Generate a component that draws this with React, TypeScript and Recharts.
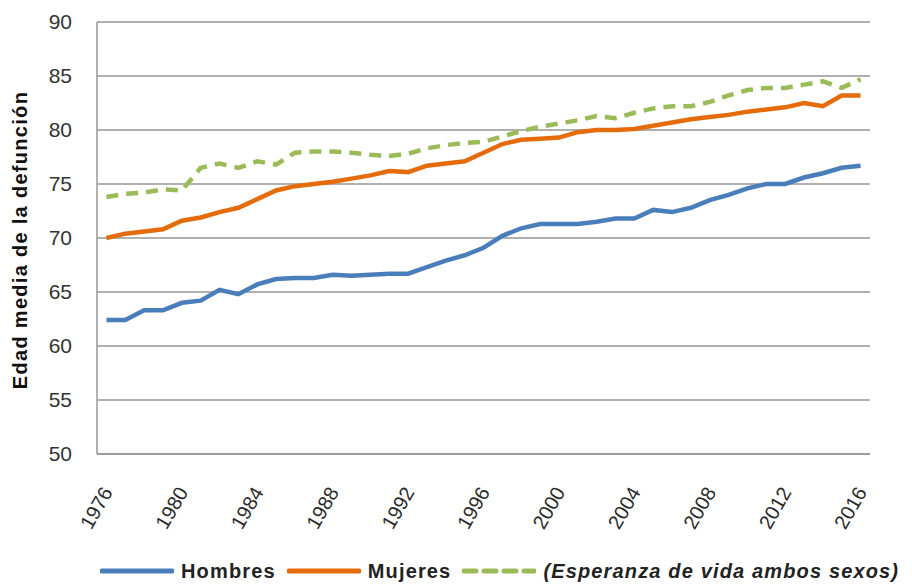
import { LineChart, Line, XAxis, YAxis, CartesianGrid, Legend } from "recharts";

const years = [
  1976, 1977, 1978, 1979, 1980, 1981, 1982, 1983, 1984, 1985, 1986, 1987, 1988, 1989,
  1990, 1991, 1992, 1993, 1994, 1995, 1996, 1997, 1998, 1999, 2000, 2001, 2002, 2003,
  2004, 2005, 2006, 2007, 2008, 2009, 2010, 2011, 2012, 2013, 2014, 2015, 2016,
];

const hombres = [
  62.4, 62.4, 63.3, 63.3, 64.0, 64.2, 65.2, 64.8, 65.7, 66.2, 66.3, 66.3, 66.6, 66.5,
  66.6, 66.7, 66.7, 67.3, 67.9, 68.4, 69.1, 70.2, 70.9, 71.3, 71.3, 71.3, 71.5, 71.8,
  71.8, 72.6, 72.4, 72.8, 73.5, 74.0, 74.6, 75.0, 75.0, 75.6, 76.0, 76.5, 76.7,
];

const mujeres = [
  70.0, 70.4, 70.6, 70.8, 71.6, 71.9, 72.4, 72.8, 73.6, 74.4, 74.8, 75.0, 75.2, 75.5,
  75.8, 76.2, 76.1, 76.7, 76.9, 77.1, 77.9, 78.7, 79.1, 79.2, 79.3, 79.8, 80.0, 80.0,
  80.1, 80.4, 80.7, 81.0, 81.2, 81.4, 81.7, 81.9, 82.1, 82.5, 82.2, 83.2, 83.2,
];

const esperanza = [
  73.8, 74.1, 74.2, 74.5, 74.4, 76.5, 76.9, 76.5, 77.1, 76.8, 77.9, 78.0, 78.0, 77.9,
  77.7, 77.6, 77.8, 78.3, 78.6, 78.8, 78.9, 79.4, 79.9, 80.3, 80.6, 80.9, 81.3, 81.1,
  81.6, 82.0, 82.2, 82.2, 82.6, 83.2, 83.7, 83.9, 83.9, 84.2, 84.5, 83.9, 84.7,
];

const yTicks = [50, 55, 60, 65, 70, 75, 80, 85, 90];
const yearLabels = [1976, 1980, 1984, 1988, 1992, 1996, 2000, 2004, 2008, 2012, 2016];
const tickMarks = [...years.map((y) => y - 0.5), years[years.length - 1] + 0.5];

const data = years.map((year, i) => ({
  year,
  hombres: hombres[i],
  mujeres: mujeres[i],
  esperanza: esperanza[i],
}));

const FONT = "'Liberation Sans', Arial, sans-serif";
const BLUE = "#4a7ebb";
const ORANGE = "#e46c0a";
const GREEN = "#9bbb59";
const GRID = "#969696";

const YearTick = ({ x, y, payload }: any) => (
  <text
    transform={`translate(${x + 7},${y + 26}) rotate(-60)`}
    textAnchor="end"
    fontSize={20}
    fontFamily={FONT}
    fill="#2b2b2b"
  >
    {payload.value}
  </text>
);

const YTitle = ({ viewBox }: any) => {
  const cx = 12;
  const cy = viewBox.y + viewBox.height / 2 + 2;
  return (
    <text
      x={cx}
      y={cy}
      transform={`rotate(-90, ${cx}, ${cy})`}
      textAnchor="middle"
      dominantBaseline="central"
      fontSize={20}
      fontWeight="bold"
      letterSpacing={1.3}
      fontFamily={FONT}
      fill="#111"
    >
      Edad media de la defunción
    </text>
  );
};

const legendItems = [
  { label: "Hombres", color: BLUE, dash: undefined, italic: false },
  { label: "Mujeres", color: ORANGE, dash: undefined, italic: false },
  { label: "(Esperanza de vida ambos sexos)", color: GREEN, dash: "12 8", italic: true },
];

const CustomLegend = () => (
  <div
    style={{
      display: "flex",
      alignItems: "center",
      fontFamily: FONT,
      paddingLeft: 92,
      whiteSpace: "nowrap",
      height: 26,
    }}
  >
    {legendItems.map((it) => (
      <div key={it.label} style={{ display: "flex", alignItems: "center", marginRight: 11 }}>
        <svg width={74} height={10} style={{ marginRight: 7 }}>
          <line
            x1={2}
            y1={5}
            x2={72}
            y2={5}
            stroke={it.color}
            strokeWidth={5}
            strokeLinecap="round"
            strokeDasharray={it.dash}
          />
        </svg>
        <span
          style={{
            fontSize: 20,
            fontWeight: "bold",
            fontStyle: it.italic ? "italic" : "normal",
            letterSpacing: 1.15,
            color: "#222",
          }}
        >
          {it.label}
        </span>
      </div>
    ))}
  </div>
);

export default function App() {
  return (
    <LineChart
      width={904}
      height={576}
      data={data}
      margin={{ top: 14, right: 42, left: 0, bottom: 0 }}
      style={{ fontFamily: FONT }}
    >
      <CartesianGrid vertical={false} stroke={GRID} strokeWidth={1.5} />
      <XAxis
        xAxisId="marks"
        dataKey="year"
        type="number"
        domain={[1975.5, 2016.5]}
        ticks={tickMarks}
        tick={false}
        tickSize={8}
        height={10}
        stroke={GRID}
        strokeWidth={1.5}
      />
      <XAxis
        xAxisId="years"
        dataKey="year"
        type="number"
        domain={[1975.5, 2016.5]}
        ticks={yearLabels}
        tick={<YearTick />}
        tickLine={false}
        axisLine={false}
        tickSize={0}
        height={94}
        interval={0}
      />
      <YAxis
        domain={[50, 90]}
        ticks={yTicks}
        width={89}
        tickLine={false}
        tickSize={0}
        tickMargin={25}
        stroke={GRID}
        strokeWidth={1.5}
        tick={{ fontSize: 21, fill: "#333", fontFamily: FONT }}
        label={<YTitle />}
      />
      <Legend
        verticalAlign="bottom"
        align="left"
        content={<CustomLegend />}
        wrapperStyle={{ left: 0, bottom: 0, width: 904 }}
      />
      <Line
        xAxisId="years"
        dataKey="hombres"
        stroke={BLUE}
        strokeWidth={4.5}
        dot={false}
        isAnimationActive={false}
      />
      <Line
        xAxisId="years"
        dataKey="mujeres"
        stroke={ORANGE}
        strokeWidth={4.5}
        dot={false}
        isAnimationActive={false}
      />
      <Line
        xAxisId="years"
        dataKey="esperanza"
        stroke={GREEN}
        strokeWidth={4.5}
        strokeDasharray="12 8"
        dot={false}
        isAnimationActive={false}
      />
    </LineChart>
  );
}
